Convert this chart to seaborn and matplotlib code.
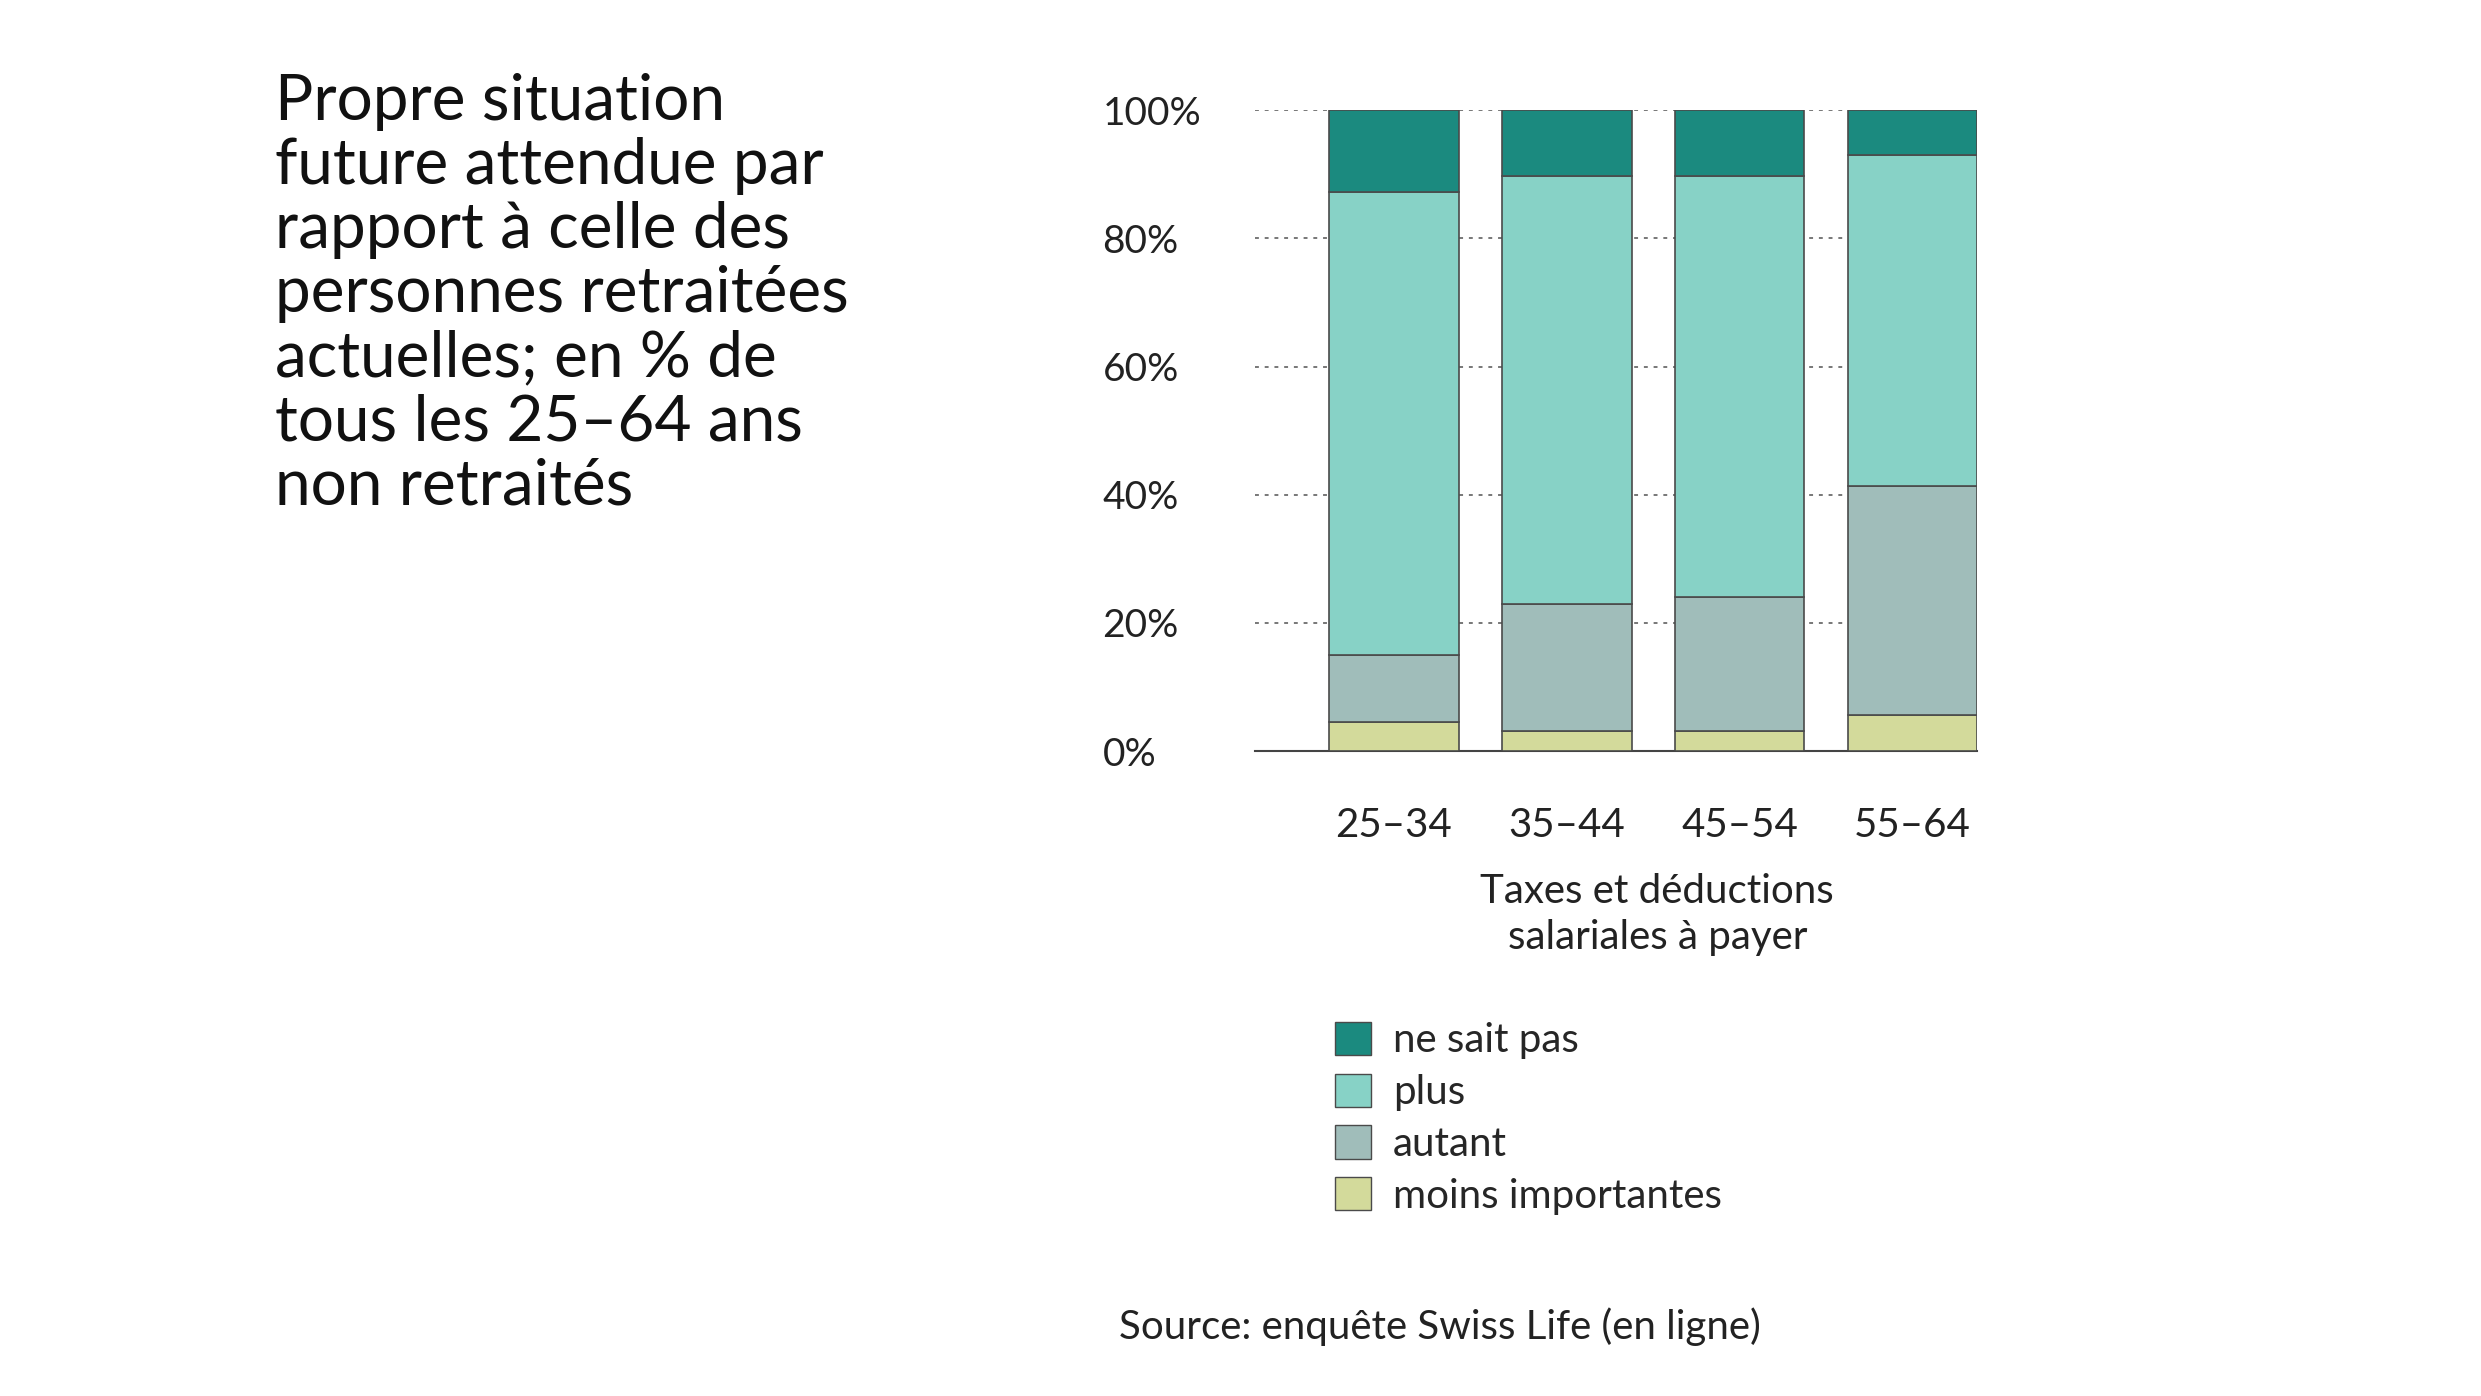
import numpy as np
import pandas as pd
import matplotlib.pyplot as plt
import seaborn as sns
from matplotlib.patches import Patch

sns.set_style("white")
plt.rcParams["font.family"] = "Lato"

# values (percent, bottom to top)
groups = ["25–34", "35–44", "45–54", "55–64"]
moins = [4.5, 3.2, 3.2, 5.7]
autant = [10.5, 19.8, 20.8, 35.7]
plus = [72.3, 66.8, 65.8, 51.6]
nsp = [12.7, 10.2, 10.2, 7.0]

series = [("moins importantes", moins, "#d3da9b"),
          ("autant", autant, "#a0bdba"),
          ("plus", plus, "#87d2c6"),
          ("ne sait pas", nsp, "#1b8a7f")]

fig = plt.figure(figsize=(24.81, 13.96), dpi=100)
ax = fig.add_axes([0.506, 0.462, 0.291, 0.459])

bottom = np.zeros(len(groups))
for name, vals, col in series:
    df = pd.DataFrame({"g": groups, "v": vals})
    sns.barplot(data=df, x="g", y="v", color=col, bottom=bottom, width=0.75,
                saturation=1, edgecolor="#4a4a4a", linewidth=1.2, ax=ax, zorder=3)
    bottom += np.array(vals)

ax.set_xlim(-0.80, 3.375)
ax.set_ylim(0, 100)
ax.set_yticks([0, 20, 40, 60, 80, 100])
ax.set_yticklabels([f"{t}%" for t in range(0, 101, 20)], fontsize=28, color="#222222")
for lab in ax.get_yticklabels():
    lab.set_horizontalalignment("left")
ax.tick_params(axis="y", length=0, pad=110)
ax.tick_params(axis="x", length=0, pad=40, labelsize=29, labelcolor="#222222")
ax.yaxis.grid(True, linestyle=(0, (2, 3)), color="#777777", linewidth=1.4, zorder=0)
ax.set_xlabel("")
ax.set_ylabel("")
for s in ["top", "right", "left"]:
    ax.spines[s].set_visible(False)
ax.spines["bottom"].set_color("#444444")
ax.spines["bottom"].set_linewidth(1.5)

fig.text(0.111, 0.948, "Propre situation\nfuture attendue par\nrapport à celle des\n"
         "personnes retraitées\nactuelles; en % de\ntous les 25–64 ans\nnon retraités",
         fontsize=46, va="top", ha="left", linespacing=1.13, color="#111111")

fig.text(0.668, 0.345, "Taxes et déductions\nsalariales à payer", fontsize=29,
         ha="center", va="center", linespacing=1.3, color="#222222")

handles = [Patch(facecolor=c, edgecolor="#4a4a4a", label=n) for n, _, c in series[::-1]]
fig.legend(handles=handles, loc="upper left", bbox_to_anchor=(0.538, 0.268),
           frameon=False, fontsize=29, handlelength=0.9, handleheight=0.9,
           handletextpad=0.55, labelspacing=0.35, borderaxespad=0, borderpad=0)

fig.text(0.451, 0.050, "Source: enquête Swiss Life (en ligne)", fontsize=29,
         ha="left", va="center", color="#222222")

fig.savefig("out.png", dpi=100)
